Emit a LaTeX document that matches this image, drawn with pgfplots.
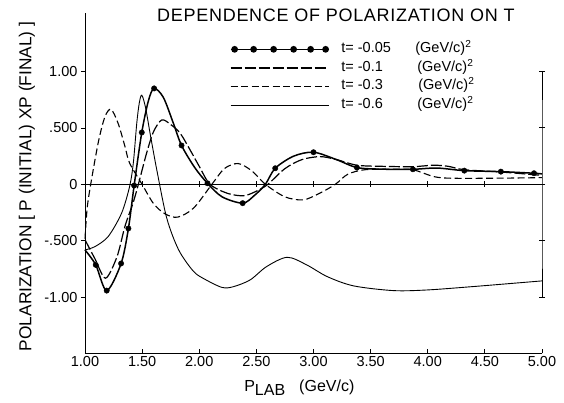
\documentclass[border=0pt]{standalone}
\usepackage{fontspec}
\setmainfont{Liberation Sans}
\usepackage{pgfplots}
\pgfplotsset{compat=1.18}
\begin{document}
\begin{tikzpicture}
\begin{axis}[
 name=ax,
 scale only axis, width=457pt, height=340.6pt,
 xmin=1, xmax=5, ymin=-1.495, ymax=1.52,
 axis lines*=left,
 axis line style={line width=0.9pt},
 clip=false,
 xtick={1,1.5,2,2.5,3,3.5,4,4.5,5},
 xticklabels={1.00,1.50,2.00,2.50,3.00,3.50,4.00,4.50,5.00},
 ytick={-1,-0.5,0,0.5,1},
 yticklabels={-1.00,-.500,0,.500,1.00},
 xtick align=inside, ytick align=outside,
 major tick length=4pt,
 tick style={black, line width=0.8pt},
 /pgf/number format/assume math mode=true,
 ticklabel style={font=\fontsize{14.5}{16}\selectfont},
 title={DEPENDENCE OF POLARIZATION ON T},
 title style={at={(axis description cs:0.549,1)}, anchor=base, yshift=-14.5pt, font=\fontsize{18}{20}\selectfont\addfontfeature{LetterSpace=4}, inner sep=0pt},
 xlabel={P\raisebox{-4pt}{LAB}\hspace{14pt}(GeV/c)},
 xlabel style={at={(axis description cs:0.469,0)}, anchor=base, yshift=-38pt, font=\fontsize{16}{18}\selectfont, inner sep=0pt},
 ylabel={POLARIZATION [ P (INITIAL) XP (FINAL) ]},
 ylabel style={at={(axis description cs:-0.127,0.49)}, anchor=center, font=\fontsize{17.3}{20}\selectfont, inner sep=0pt},
 legend style={at={(axis description cs:0.317,0.912)}, anchor=north west, draw=none, fill=none, inner sep=0pt, outer sep=0pt, row sep=5.3pt, column sep=12pt, font=\fontsize{14.5}{16}\selectfont, nodes={inner sep=0pt, text height=10pt, text depth=3.3pt}},
 legend cell align=left,
 legend image code/.code={\draw[#1] (0pt,0pt) -- (98pt,0pt);},
]
% t = -0.05 (line with dots)
\addplot[black, line width=1.5pt, smooth, tension=0.5,
 legend image code/.code={\draw[black, line width=1.5pt] (0pt,0pt)--(98pt,0pt); \foreach \xx in {4,23,43,63,80,95}{\fill[black] (\xx pt,0pt) circle (2.6pt);}}]
 coordinates {(1.00,-0.58)(1.094,-0.712)(1.19,-0.94)(1.316,-0.70)(1.38,-0.39)(1.43,-0.01)(1.497,0.46)(1.555,0.74)(1.605,0.85)(1.686,0.77)(1.774,0.54)(1.845,0.345)(1.96,0.15)(2.072,0.01)(2.2,-0.11)(2.38,-0.166)(2.48,-0.10)(2.578,0.0)(2.665,0.143)(2.826,0.25)(3.00,0.285)(3.2,0.22)(3.38,0.149)(3.6,0.135)(3.87,0.134)(4.08,0.145)(4.32,0.122)(4.64,0.113)(4.93,0.099)(5.00,0.093)};
\addlegendentry{\makebox[74pt][l]{t= -0.05}(GeV/c)\textsuperscript{2}}
% t = -0.1
\addplot[black, line width=1.2pt, smooth, tension=0.5, dash pattern=on 11pt off 3pt]
 coordinates {(1.00,-0.49)(1.088,-0.66)(1.18,-0.83)(1.28,-0.64)(1.35,-0.37)(1.42,-0.166)(1.467,0.0)(1.54,0.28)(1.60,0.467)(1.672,0.571)(1.75,0.53)(1.833,0.453)(1.92,0.305)(2.0,0.16)(2.095,0.0)(2.25,-0.08)(2.39,-0.10)(2.5,-0.06)(2.6,0.0)(2.75,0.14)(2.9,0.22)(3.06,0.246)(3.2,0.22)(3.38,0.17)(3.6,0.16)(3.87,0.157)(4.05,0.17)(4.18,0.16)(4.32,0.13)(4.64,0.11)(5.0,0.08)};
\addlegendentry{\makebox[76pt][l]{t= -0.1}(GeV/c)\textsuperscript{2}}
% t = -0.3
\addplot[black, line width=1.1pt, smooth, tension=0.5, dash pattern=on 7pt off 3.5pt]
 coordinates {(1.0,-0.48)(1.02,-0.2)(1.06,0.06)(1.12,0.39)(1.175,0.6)(1.228,0.665)(1.29,0.54)(1.35,0.335)(1.39,0.19)(1.50,0.0)(1.6,-0.17)(1.7,-0.26)(1.81,-0.29)(1.95,-0.21)(2.11,0.0)(2.22,0.14)(2.34,0.185)(2.46,0.12)(2.58,0.0)(2.75,-0.11)(2.91,-0.137)(3.05,-0.08)(3.19,0.0)(3.3,0.09)(3.45,0.13)(3.7,0.135)(3.87,0.13)(4.05,0.07)(4.2,0.055)(4.6,0.055)(5.0,0.06)};
\addlegendentry{\makebox[77pt][l]{t= -0.3}(GeV/c)\textsuperscript{2}}
% t = -0.6
\addplot[black, line width=0.9pt, smooth, tension=0.5]
 coordinates {(1.00,-0.58)(1.088,-0.55)(1.204,-0.46)(1.32,-0.255)(1.39,-0.02)(1.423,0.19)(1.453,0.54)(1.475,0.72)(1.497,0.79)(1.53,0.68)(1.57,0.45)(1.63,0.12)(1.716,-0.30)(1.82,-0.58)(1.95,-0.77)(2.05,-0.84)(2.2,-0.912)(2.3,-0.905)(2.446,-0.845)(2.59,-0.727)(2.77,-0.645)(2.94,-0.712)(3.12,-0.816)(3.35,-0.898)(3.70,-0.94)(4.0,-0.934)(4.40,-0.904)(4.81,-0.87)(5.0,-0.854)};
\addlegendentry{\makebox[76pt][l]{t= -0.6}(GeV/c)\textsuperscript{2}}
% dots of t = -0.05
\addplot[only marks, mark=*, mark size=2.7pt, black, forget plot]
 coordinates {(1.094,-0.712)(1.19,-0.94)(1.316,-0.70)(1.38,-0.39)(1.43,-0.01)(1.497,0.46)(1.605,0.85)(1.845,0.345)(2.072,0.01)(2.38,-0.166)(2.665,0.143)(3.00,0.285)(3.38,0.149)(3.87,0.134)(4.32,0.122)(4.64,0.113)(4.93,0.099)};
% zero line with ticks
\addplot[black, line width=0.8pt, forget plot] coordinates {(1,0)(5,0)};
\addplot[only marks, mark=|, mark size=3pt, black, line width=0.8pt, forget plot] coordinates {(1.5,0)(2,0)(2.5,0)(3,0)(3.5,0)(4,0)(4.5,0)};
% right-hand scale
\addplot[black, line width=0.9pt, mark=-, mark size=3pt, forget plot] coordinates {(5,-1)(5,-0.5)(5,0)(5,0.5)(5,1)};
\end{axis}
\pgfresetboundingbox
\path (ax.south west) ++(-85pt,-48.7pt) rectangle ++(564pt,402pt);
\end{tikzpicture}
\end{document}
